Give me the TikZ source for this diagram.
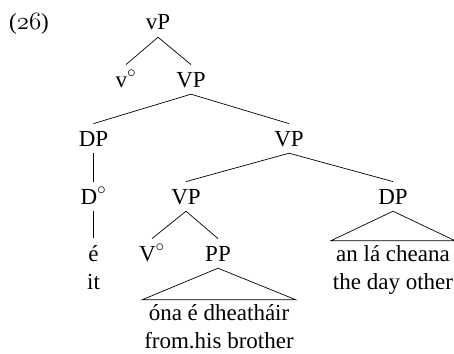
\documentclass[tikz,border=0pt]{standalone}
\usepackage{fontspec}
\setmainfont{Liberation Serif}
\newcommand\oldnum[1]{{\usefont{OML}{cmm}{m}{it}#1}}
\begin{document}
\begin{tikzpicture}[x=1pt,y=-1pt,
  font=\fontsize{23}{28}\selectfont,
  cat/.style={anchor=base, inner xsep=1pt, inner ysep=7pt, text height=15.2pt, text depth=0pt},
  leaf/.style={anchor=base, inner xsep=1pt, inner ysep=7pt, align=center},
  term/.style={anchor=base, inner xsep=2pt, inner ysep=4pt, align=center},
  branch/.style={line width=0.7pt}]
\useasboundingbox (0,0) rectangle (454,353);
\node[cat] (vP) at (158,30) {vP};
\node[anchor=base west, inner sep=0pt] (ex) at (9,30) {(\oldnum{26})};
\node[cat] (v) at (126,87) {v$^{\circ}$};
\node[cat] (VP1) at (191,87) {VP};
\node[cat] (DP1) at (93.5,146) {DP};
\node[cat] (VP2) at (289,146) {VP};
\node[cat] (D) at (93.5,204) {D$^{\circ}$};
\node[cat] (VP3) at (186,204) {VP};
\node[cat] (DP2) at (393,204) {DP};
\node[leaf] (e) at (93.5,289) {é\\it};
\node[cat] (V) at (152,261) {V$^{\circ}$};
\node[cat] (PP) at (218,261) {PP};
\node[term] (t1) at (393,289) {an lá cheana\\the day other};
\node[term] (t2) at (219,348) {óna é dheatháir\\from.his brother};
\draw[branch] (vP.south) -- (v.north);
\draw[branch] (vP.south) -- (VP1.north);
\draw[branch] (VP1.south) -- (DP1.north);
\draw[branch] (VP1.south) -- (VP2.north);
\draw[branch] (DP1.south) -- (D.north);
\draw[branch] (D.south) -- (e.north);
\draw[branch] (VP2.south) -- (VP3.north);
\draw[branch] (VP2.south) -- (DP2.north);
\draw[branch] (VP3.south) -- (V.north);
\draw[branch] (VP3.south) -- (PP.north);
\draw[branch] (DP2.south) -- (t1.north west) -- (t1.north east) -- cycle;
\draw[branch] (PP.south) -- (t2.north west) -- (t2.north east) -- cycle;
\end{tikzpicture}
\end{document}
